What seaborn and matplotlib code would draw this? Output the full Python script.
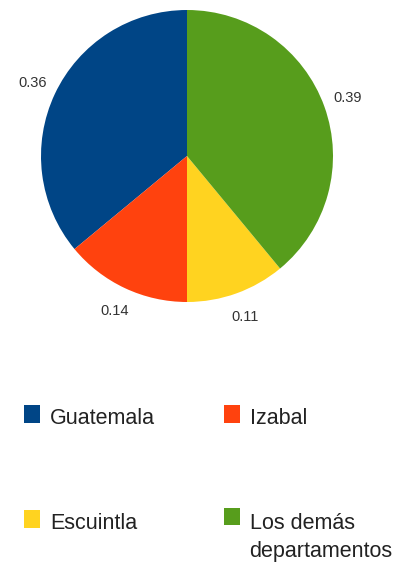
"""
Pie chart of shares by departamento (Guatemala).
"""

import seaborn as sns
import matplotlib.pyplot as plt
from matplotlib.patches import Rectangle
from matplotlib.legend_handler import HandlerPatch

# data
names = ["Guatemala", "Izabal", "Escuintla", "Los demás\ndepartamentos"]
shares = [0.36, 0.14, 0.11, 0.39]
share_labels = ["0.36", "0.14", "0.11", "0.39"]
colors = ["#004586", "#ff420e", "#ffd320", "#579d1c"]

LEGEND_FONT = 15.5
LINE_SPACING = 1.45


def init_figure():
    """
    Initialize the figure.
    """
    sns.set_theme(style="white")
    plt.rcParams["font.family"] = ["Liberation Sans", "DejaVu Sans"]
    fig = plt.figure(figsize=(3.97, 5.64), dpi=100)
    ax = fig.add_axes([41 / 397, 1 - 302 / 564, 292 / 397, 292 / 564])
    return fig, ax


def square_patch(shift):
    """
    Legend square lifted a bit above the text centre.
    """
    def make(legend, orig_handle, xdescent, ydescent, width, height, fontsize):
        return Rectangle((-xdescent, -ydescent + shift * fontsize), width, height)
    return make


def pie(fig, ax):
    """
    Draw the pie and its legend.
    """
    palette = sns.color_palette(colors)
    wedges, texts = ax.pie(shares, labels=share_labels, colors=palette,
                           startangle=90, counterclock=True,
                           labeldistance=1.17,
                           wedgeprops={"linewidth": 0},
                           textprops={"fontsize": 10.5, "color": "#333333"})
    for t in texts:
        t.set_horizontalalignment("center")
        t.set_verticalalignment("center")
    ax.set_xlim(-1, 1)
    ax.set_ylim(-1, 1)
    ax.set_aspect("equal")

    # legend is filled column by column, so reorder for row-major layout
    order = [0, 2, 1, 3]
    handles = [wedges[i] for i in order]
    labels = [names[i] for i in order]
    single = HandlerPatch(patch_func=square_patch(0.12))
    double = HandlerPatch(patch_func=square_patch(0.12 + 0.62 * LINE_SPACING))
    hmap = {w: single for w in wedges[:3]}
    hmap[wedges[3]] = double
    leg = fig.legend(handles, labels, ncol=2, loc="upper left",
                     bbox_to_anchor=(24 / 397, 1 - 408 / 564),
                     frameon=False, fontsize=LEGEND_FONT, borderpad=0,
                     borderaxespad=0,
                     handlelength=0.75, handleheight=0.85, handletextpad=0.45,
                     columnspacing=3.2, labelspacing=3.9,
                     labelcolor="#222222", handler_map=hmap)
    for t in leg.get_texts():
        t.set_linespacing(LINE_SPACING)


if __name__ == "__main__":
    fig, ax = init_figure()
    pie(fig, ax)
    fig.savefig("out.png", dpi=100)
